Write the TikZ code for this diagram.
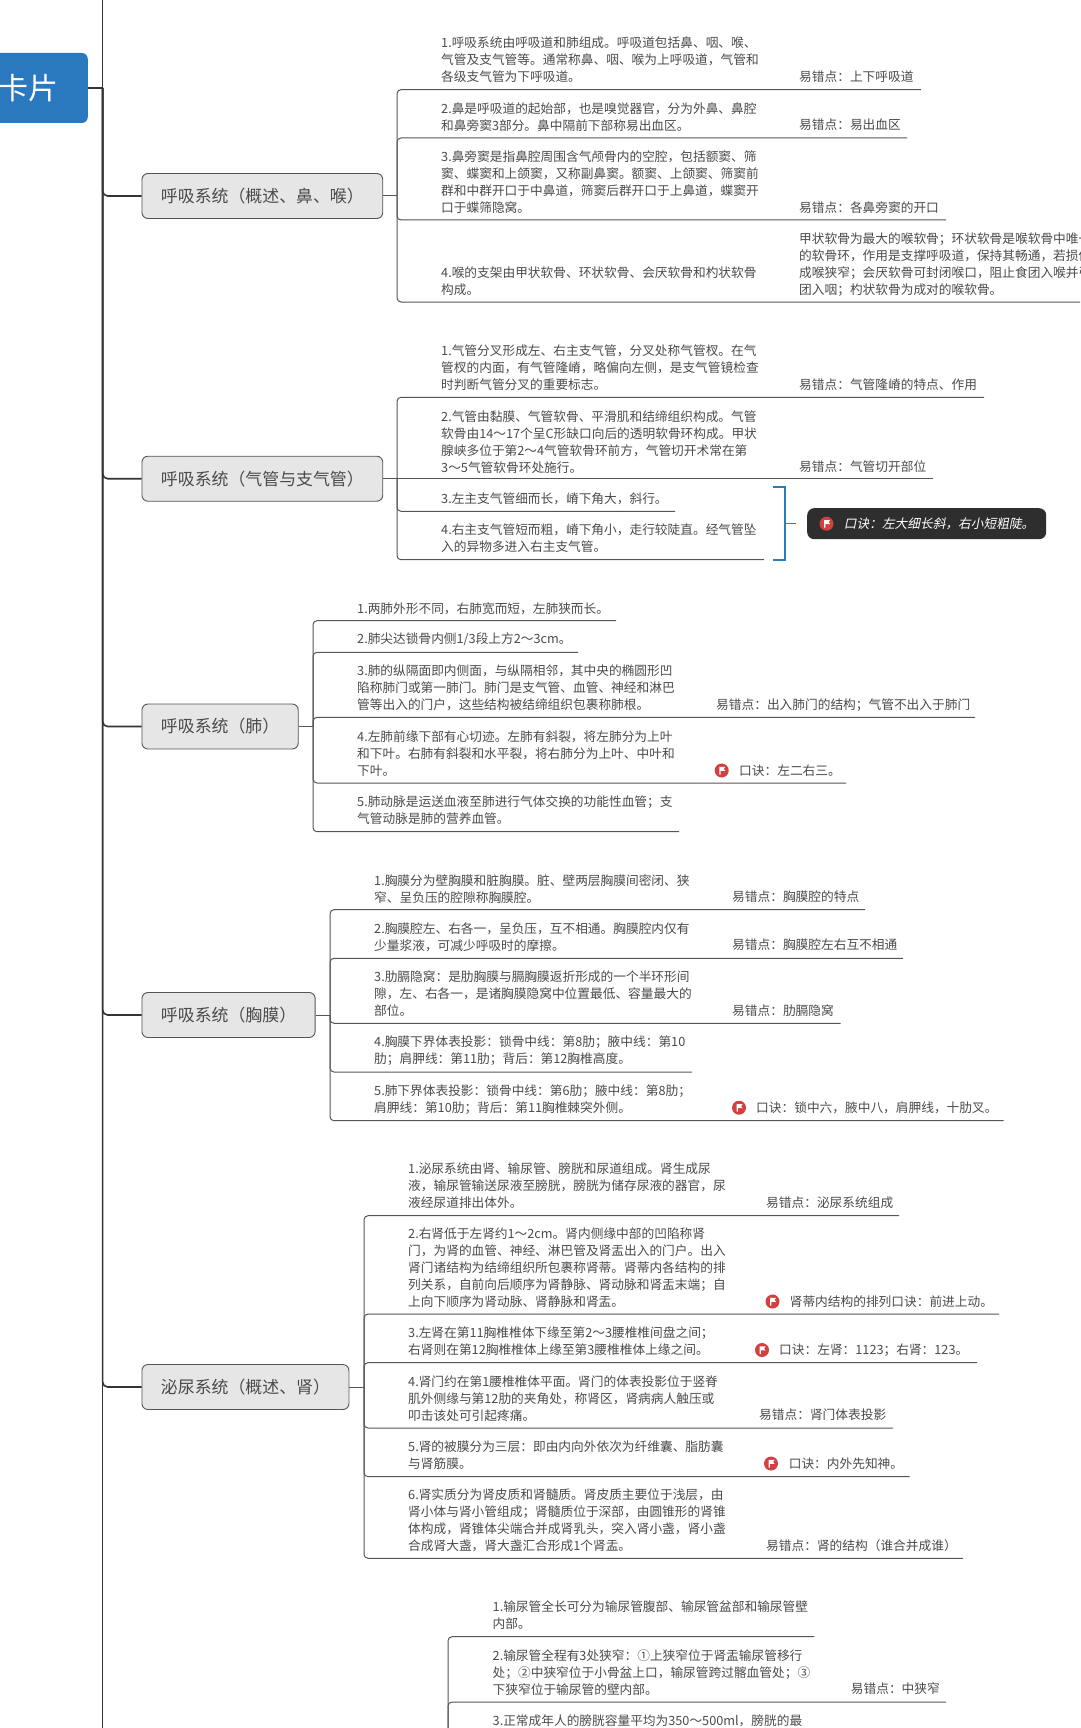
\documentclass[tikz,border=0pt]{standalone}
\usepackage{fontspec}
\setmainfont{Noto Sans CJK SC}
\newfontfamily\slantfont[FakeSlant=0.2]{Noto Sans CJK SC}
\usepackage{xcolor}
\definecolor{inkgray}{HTML}{4A4A4A}
\definecolor{linegray}{HTML}{555555}
\definecolor{rootblue}{HTML}{2A78BE}
\definecolor{topicfill}{HTML}{E6E6E6}
\definecolor{mouthdark}{HTML}{2E2E2E}
\definecolor{flagred}{HTML}{D2403F}
\definecolor{bracketblue}{HTML}{2A7DBB}

\tikzset{
  rootbox/.style={fill=rootblue, text=white, rounded corners=6pt, anchor=east, inner xsep=29.5pt, minimum height=70pt, inner ysep=0pt, font=\fontsize{30}{30}\selectfont},
  topicbox/.style={draw=linegray, fill=topicfill, text=inkgray, line width=0.9pt, rounded corners=6pt, anchor=west, inner xsep=19pt, inner ysep=0pt, minimum height=45pt, font=\fontsize{16.9}{20}\selectfont},
  itemtext/.style={anchor=west, align=left, inner sep=0pt, text=inkgray, font=\fontsize{12.7}{17}\selectfont},
  trunk/.style={draw=black!80, line width=1.6pt},
  limb/.style={draw=black!80, line width=1.6pt, rounded corners=5pt},
  twig/.style={draw=linegray, line width=1pt, rounded corners=4pt},
  bracketline/.style={draw=bracketblue, line width=1.7pt},
  mouthbox/.style={fill=mouthdark, text=white, rounded corners=7pt, anchor=west, minimum width=239pt, minimum height=31pt, inner sep=0pt},
  flagmark/.style={circle, fill=flagred, minimum size=14pt, inner sep=0pt, path picture={
    \fill[white, shift={(path picture bounding box.center)}] (-2.4,4)--(-2.4,-3.6)--(3.6,-3.6)--(2.1,-1.6)--(3.6,0.4)--(-1.2,0.4)--(-1.2,4)--cycle;}},
}

\begin{document}
\begin{tikzpicture}[x=1pt,y=-1pt]

\useasboundingbox (0,0) rectangle (1080,1728);
\clip (0,0) rectangle (1080,1728);

\coordinate (mtop) at (102.6,-5);
\coordinate (mbot) at (102.6,1735);
\coordinate (mjoin) at (102.6,88);
\draw[trunk] (mtop) -- (mbot);

\node (root) at (88,88) [rootbox] {卡片};
\draw[trunk] (root.east) -- (mjoin);

\node (topic1) at (141.5,196) [topicbox] {呼吸系统（概述、鼻、喉）};
\node (topic2) at (141.5,478.7) [topicbox] {呼吸系统（气管与支气管）};
\node (topic3) at (141.5,726.5) [topicbox] {呼吸系统（肺）};
\node (topic4) at (141.5,1015) [topicbox] {呼吸系统（胸膜）};
\node (topic5) at (141.5,1387) [topicbox] {泌尿系统（概述、肾）};

\draw[limb] (mjoin) |- (topic1.west);
\draw[limb] (mjoin) |- (topic2.west);
\draw[limb] (mjoin) |- (topic3.west);
\draw[limb] (mjoin) |- (topic4.west);
\draw[limb] (mjoin) |- (topic5.west);


\begin{scope}[xshift=397pt]{
\coordinate (j1) at (0,196);
\draw[twig] (topic1.east) -- (j1);

\coordinate (e1a) at (524,89.7);
\coordinate (e1b) at (510,138);
\coordinate (e1c) at (549,220);
\coordinate (e1d) at (700,302);
\draw[twig] (j1) |- (e1a);
\draw[twig] (j1) |- (e1b);
\draw[twig] (j1) |- (e1c);
\draw[twig] (j1) |- (e1d);

\node (t1a) at (44,60) [itemtext] {1.呼吸系统由呼吸道和肺组成。呼吸道包括鼻、咽、喉、\\气管及支气管等。通常称鼻、咽、喉为上呼吸道，气管和\\各级支气管为下呼吸道。};
\node (n1a) at (402,77) [itemtext] {易错点：上下呼吸道};
\node (t1b) at (44,117) [itemtext] {2.鼻是呼吸道的起始部，也是嗅觉器官，分为外鼻、鼻腔\\和鼻旁窦3部分。鼻中隔前下部称易出血区。};
\node (n1b) at (402,125) [itemtext] {易错点：易出血区};
\node (t1c) at (44,182) [itemtext] {3.鼻旁窦是指鼻腔周围含气颅骨内的空腔，包括额窦、筛\\窦、蝶窦和上颌窦，又称副鼻窦。额窦、上颌窦、筛窦前\\群和中群开口于中鼻道，筛窦后群开口于上鼻道，蝶窦开\\口于蝶筛隐窝。};
\node (n1c) at (402,208) [itemtext] {易错点：各鼻旁窦的开口};
\node (t1d) at (44,281) [itemtext] {4.喉的支架由甲状软骨、环状软骨、会厌软骨和杓状软骨\\构成。};
\node (n1d) at (402,264.5) [itemtext] {甲状软骨为最大的喉软骨；环状软骨是喉软骨中唯一\\的软骨环，作用是支撑呼吸道，保持其畅通，若损伤\\成喉狭窄；会厌软骨可封闭喉口，阻止食团入喉并引\\团入咽；杓状软骨为成对的喉软骨。};
} \end{scope}


\begin{scope}[xshift=397pt]{
\coordinate (j2) at (0,478.7);
\draw[twig] (topic2.east) -- (j2);

\coordinate (e2a) at (587,397.3);
\coordinate (e2b) at (536,478.7);
\coordinate (e2c) at (278,511.3);
\coordinate (e2d) at (367,559.7);
\draw[twig] (j2) |- (e2a);
\draw[twig] (j2) -- (e2b);
\draw[twig] (j2) |- (e2c);
\draw[twig] (j2) |- (e2d);

\node (t2a) at (44,368) [itemtext] {1.气管分叉形成左、右主支气管，分叉处称气管杈。在气\\管杈的内面，有气管隆嵴，略偏向左侧，是支气管镜检查\\时判断气管分叉的重要标志。};
\node (n2a) at (402,384.5) [itemtext] {易错点：气管隆嵴的特点、作用};
\node (t2b) at (44,441.7) [itemtext] {2.气管由黏膜、气管软骨、平滑肌和结缔组织构成。气管\\软骨由14～17个呈C形缺口向后的透明软骨环构成。甲状\\腺峡多位于第2～4气管软骨环前方，气管切开术常在第\\3～5气管软骨环处施行。};
\node (n2b) at (402,467) [itemtext] {易错点：气管切开部位};
\node (t2c) at (44,499) [itemtext] {3.左主支气管细而长，嵴下角大，斜行。};
\node (t2d) at (44,538.5) [itemtext] {4.右主支气管短而粗，嵴下角小，走行较陡直。经气管坠\\入的异物多进入右主支气管。};

%bracket and its note
\coordinate (ba) at (376,486.7);
\coordinate (bb) at (388,486.7);
\coordinate (bc) at (388,560.3);
\coordinate (bd) at (376,560.3);
\coordinate (bm) at (388,523.5);
\coordinate (bt) at (399,523.5);
\draw[bracketline] (ba) -- (bb) -- (bc) -- (bd);
\draw[bracketline] (bm) -- (bt);

\node (mouth) at (410,523.7) [mouthbox] {};
\node (f2) at (429.5,523.7) [flagmark] {};
\node (k2) at (446.7,523.5) [itemtext, text=white] {\slantfont 口诀：左大细长斜，右小短粗陡。};
} \end{scope}


\begin{scope}[xshift=313pt]{
\coordinate (j3) at (0,726.5);
\draw[twig] (topic3.east) -- (j3);

\coordinate (e3a) at (303,620.7);
\coordinate (e3b) at (265,652.3);
\coordinate (e3c) at (662,717.3);
\coordinate (e3d) at (533,783);
\coordinate (e3e) at (366,831.7);
\draw[twig] (j3) |- (e3a);
\draw[twig] (j3) |- (e3b);
\draw[twig] (j3) |- (e3c);
\draw[twig] (j3) |- (e3d);
\draw[twig] (j3) |- (e3e);

\node (t3a) at (44,608.7) [itemtext] {1.两肺外形不同，右肺宽而短，左肺狭而长。};
\node (t3b) at (44,639.7) [itemtext] {2.肺尖达锁骨内侧1/3段上方2～3cm。};
\node (t3c) at (44,688) [itemtext] {3.肺的纵隔面即内侧面，与纵隔相邻，其中央的椭圆形凹\\陷称肺门或第一肺门。肺门是支气管、血管、神经和淋巴\\管等出入的门户，这些结构被结缔组织包裹称肺根。};
\node (n3c) at (403,705) [itemtext] {易错点：出入肺门的结构；气管不出入于肺门};
\node (t3d) at (44,753.7) [itemtext] {4.左肺前缘下部有心切迹。左肺有斜裂，将左肺分为上叶\\和下叶。右肺有斜裂和水平裂，将右肺分为上叶、中叶和\\下叶。};
\node (f3d) at (408.7,770.5) [flagmark] {};
\node (n3d) at (426,770.5) [itemtext] {口诀：左二右三。};
\node (t3e) at (44,810.2) [itemtext] {5.肺动脉是运送血液至肺进行气体交换的功能性血管；支\\气管动脉是肺的营养血管。};
} \end{scope}


\begin{scope}[xshift=330pt]{
\coordinate (j4) at (0,1015);
\draw[twig] (topic4.east) -- (j4);

\coordinate (e4a) at (535,909.7);
\coordinate (e4b) at (573,958.3);
\coordinate (e4c) at (510.6,1023.3);
\coordinate (e4d) at (362,1072);
\coordinate (e4e) at (673.7,1120.7);
\draw[twig] (j4) |- (e4a);
\draw[twig] (j4) |- (e4b);
\draw[twig] (j4) |- (e4c);
\draw[twig] (j4) |- (e4d);
\draw[twig] (j4) |- (e4e);

\node (t4a) at (44,888.7) [itemtext] {1.胸膜分为壁胸膜和脏胸膜。脏、壁两层胸膜间密闭、狭\\窄、呈负压的腔隙称胸膜腔。};
\node (n4a) at (402,897) [itemtext] {易错点：胸膜腔的特点};
\node (t4b) at (44,937) [itemtext] {2.胸膜腔左、右各一，呈负压，互不相通。胸膜腔内仅有\\少量浆液，可减少呼吸时的摩擦。};
\node (n4b) at (402,945) [itemtext] {易错点：胸膜腔左右互不相通};
\node (t4c) at (44,994) [itemtext] {3.肋膈隐窝：是肋胸膜与膈胸膜返折形成的一个半环形间\\隙，左、右各一，是诸胸膜隐窝中位置最低、容量最大的\\部位。};
\node (n4c) at (402,1011) [itemtext] {易错点：肋膈隐窝};
\node (t4d) at (44,1050.8) [itemtext] {4.胸膜下界体表投影：锁骨中线：第8肋；腋中线：第10\\肋；肩胛线：第11肋；背后：第12胸椎高度。};
\node (t4e) at (44,1099.2) [itemtext] {5.肺下界体表投影：锁骨中线：第6肋；腋中线：第8肋；\\肩胛线：第10肋；背后：第11胸椎棘突外侧。};
\node (f4e) at (409,1107.7) [flagmark] {};
\node (n4e) at (426,1107.7) [itemtext] {口诀：锁中六，腋中八，肩胛线，十肋叉。};
} \end{scope}


\begin{scope}[xshift=364pt]{
\coordinate (j5) at (0,1387);
\draw[twig] (topic5.east) -- (j5);

\coordinate (e5a) at (535,1215.7);
\coordinate (e5b) at (635,1314);
\coordinate (e5c) at (613,1362.7);
\coordinate (e5d) at (529,1428);
\coordinate (e5e) at (545.5,1476.7);
\coordinate (e5f) at (599,1558.3);
\draw[twig] (j5) |- (e5a);
\draw[twig] (j5) |- (e5b);
\draw[twig] (j5) |- (e5c);
\draw[twig] (j5) |- (e5d);
\draw[twig] (j5) |- (e5e);
\draw[twig] (j5) |- (e5f);

\node (t5a) at (44,1185.7) [itemtext] {1.泌尿系统由肾、输尿管、膀胱和尿道组成。肾生成尿\\液，输尿管输送尿液至膀胱，膀胱为储存尿液的器官，尿\\液经尿道排出体外。};
\node (n5a) at (402,1202.5) [itemtext] {易错点：泌尿系统组成};
\node (t5b) at (44,1268) [itemtext] {2.右肾低于左肾约1～2cm。肾内侧缘中部的凹陷称肾\\门，为肾的血管、神经、淋巴管及肾盂出入的门户。出入\\肾门诸结构为结缔组织所包裹称肾蒂。肾蒂内各结构的排\\列关系，自前向后顺序为肾静脉、肾动脉和肾盂末端；自\\上向下顺序为肾动脉、肾静脉和肾盂。};
\node (f5b) at (408.5,1301.5) [flagmark] {};
\node (n5b) at (425.6,1301.5) [itemtext] {肾蒂内结构的排列口诀：前进上动。};
\node (t5c) at (44,1341.5) [itemtext] {3.左肾在第11胸椎椎体下缘至第2～3腰椎椎间盘之间；\\右肾则在第12胸椎椎体上缘至第3腰椎椎体上缘之间。};
\node (f5c) at (398,1350) [flagmark] {};
\node (n5c) at (415,1350) [itemtext] {口诀：左肾：1123；右肾：123。};
\node (t5d) at (44,1398.3) [itemtext] {4.肾门约在第1腰椎椎体平面。肾门的体表投影位于竖脊\\肌外侧缘与第12肋的夹角处，称肾区，肾病病人触压或\\叩击该处可引起疼痛。};
\node (n5d) at (395,1415) [itemtext] {易错点：肾门体表投影};
\node (t5e) at (44,1455.5) [itemtext] {5.肾的被膜分为三层：即由内向外依次为纤维囊、脂肪囊\\与肾筋膜。};
\node (f5e) at (407,1463.5) [flagmark] {};
\node (n5e) at (424.6,1463.5) [itemtext] {口诀：内外先知神。};
\node (t5f) at (44,1520.7) [itemtext] {6.肾实质分为肾皮质和肾髓质。肾皮质主要位于浅层，由\\肾小体与肾小管组成；肾髓质位于深部，由圆锥形的肾锥\\体构成，肾锥体尖端合并成肾乳头，突入肾小盏，肾小盏\\合成肾大盏，肾大盏汇合形成1个肾盂。};
\node (n5f) at (402,1546) [itemtext] {易错点：肾的结构（谁合并成谁）};
} \end{scope}


\begin{scope}[xshift=448pt]{
\coordinate (j6) at (0,1765);

\coordinate (e6a) at (366.4,1636.7);
\coordinate (e6b) at (498,1702);
\draw[twig] (j6) |- (e6a);
\draw[twig] (j6) |- (e6b);

\node (t6a) at (44.5,1615.5) [itemtext] {1.输尿管全长可分为输尿管腹部、输尿管盆部和输尿管壁\\内部。};
\node (t6b) at (44.5,1672.3) [itemtext] {2.输尿管全程有3处狭窄：①上狭窄位于肾盂输尿管移行\\处；②中狭窄位于小骨盆上口，输尿管跨过髂血管处；③\\下狭窄位于输尿管的壁内部。};
\node (n6b) at (402.7,1689) [itemtext] {易错点：中狭窄};
\node (t6c) at (44.5,1720.7) [itemtext] {3.正常成年人的膀胱容量平均为350～500ml，膀胱的最};
} \end{scope}


\end{tikzpicture}
\end{document}
